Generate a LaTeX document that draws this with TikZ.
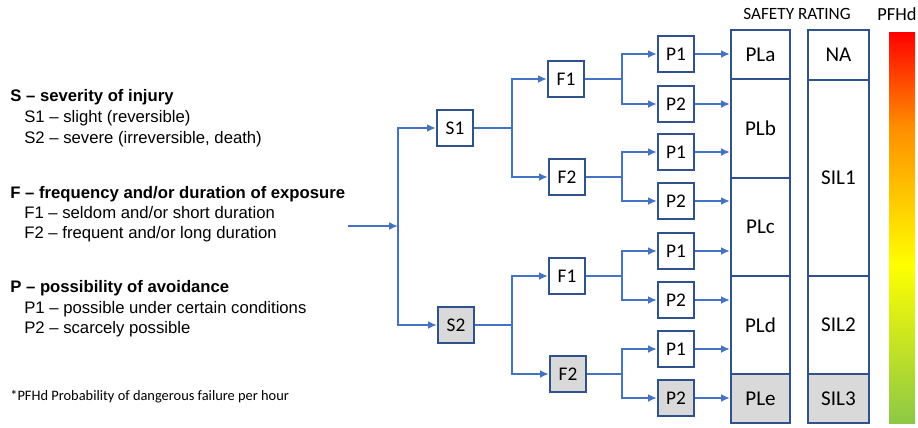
\documentclass[tikz,border=0pt]{standalone}
\usepackage{fontspec}
\setmainfont{Liberation Sans}
\newfontfamily\calibri{Carlito}
\usetikzlibrary{arrows.meta}
\definecolor{flowblue}{RGB}{68,114,196}
\definecolor{boxblue}{RGB}{47,82,143}
\definecolor{palegray}{RGB}{217,217,217}
\definecolor{barred}{RGB}{255,0,0}
\definecolor{barorange}{RGB}{255,140,0}
\definecolor{baryellow}{RGB}{255,255,0}
\definecolor{bargreen}{RGB}{140,200,70}

\begin{document}
\begin{tikzpicture}[x=0.02cm, y=-0.02cm,
    flow/.style={draw=flowblue, line width=1.3pt, -{Latex[length=5pt,width=4.5pt]}},
    decide/.style={draw=boxblue, line width=1.3pt, fill=white, minimum width=0.72cm,
        minimum height=0.72cm, inner sep=0pt, font=\calibri\fontsize{11}{13}\selectfont},
    rating/.style={draw=boxblue, line width=1.3pt, fill=white, inner sep=0pt,
        font=\calibri\fontsize{12}{14}\selectfont},
    grayed/.style={fill=palegray},
    legend/.style={anchor=base west, inner sep=0pt, font=\fontsize{9.5}{11}\selectfont}]
    \useasboundingbox (0,0) rectangle (918,427);

    % legend on the left
    \node[legend] (sname) at (10,101) {\textbf{S – severity of injury}};
    \node[legend] (sone) at (24,122) {S1 – slight (reversible)};
    \node[legend] (stwo) at (24,143) {S2 – severe (irreversible, death)};
    \node[legend] (fname) at (10,198) {\textbf{F – frequency and/or duration of exposure}};
    \node[legend] (fone) at (24,218) {F1 – seldom and/or short duration};
    \node[legend] (ftwo) at (24,238) {F2 – frequent and/or long duration};
    \node[legend] (pname) at (10,292) {\textbf{P – possibility of avoidance}};
    \node[legend] (pone) at (24,313) {P1 – possible under certain conditions};
    \node[legend] (ptwo) at (24,333) {P2 – scarcely possible};
    \node[anchor=base west, inner sep=0pt, font=\calibri\fontsize{8.2}{10}\selectfont] (note)
        at (10,400) {*PFHd Probability of dangerous failure per hour};

    % decision tree
    \node[decide] (s1) at (455,128) {S1};
    \node[decide, grayed] (s2) at (456,325) {S2};
    \node[decide] (f1a) at (566,79) {F1};
    \node[decide] (f2a) at (567,177) {F2};
    \node[decide] (f1b) at (567,276) {F1};
    \node[decide, grayed] (f2b) at (568,374) {F2};
    \node[decide] (p1a) at (676,54) {P1};
    \node[decide] (p2a) at (676,104) {P2};
    \node[decide] (p1b) at (676,152) {P1};
    \node[decide] (p2b) at (676,201) {P2};
    \node[decide] (p1c) at (676,251) {P1};
    \node[decide] (p2c) at (676,300) {P2};
    \node[decide] (p1d) at (676,349) {P1};
    \node[decide, grayed] (p2d) at (676,398) {P2};

    % performance levels and SIL
    \node[rating, minimum width=1.18cm, minimum height=0.98cm] (pla) at (760.5,54.5) {PLa};
    \node[rating, minimum width=1.18cm, minimum height=1.98cm] (plb) at (760.5,128.5) {PLb};
    \node[rating, minimum width=1.18cm, minimum height=1.96cm] (plc) at (760.5,227) {PLc};
    \node[rating, minimum width=1.18cm, minimum height=1.96cm] (pld) at (760.5,325) {PLd};
    \node[rating, grayed, minimum width=1.18cm, minimum height=0.98cm] (ple) at (760.5,398.5) {PLe};
    \node[rating, minimum width=1.22cm, minimum height=1.0cm] (na) at (838.5,55) {NA};
    \node[rating, minimum width=1.22cm, minimum height=3.92cm] (sil1) at (838.5,178) {SIL1};
    \node[rating, minimum width=1.22cm, minimum height=1.96cm] (sil2) at (838.5,325) {SIL2};
    \node[rating, grayed, minimum width=1.22cm, minimum height=0.98cm] (sil3) at (838.5,398.5) {SIL3};
    \node[font=\calibri\fontsize{9.8}{11}\selectfont] (rathead) at (797,14) {SAFETY RATING};
    \node[font=\calibri\fontsize{10.5}{12}\selectfont] (pfhd) at (897,14) {PFHd};

    % PFHd bar
    \shade[top color=barred, bottom color=barorange] (889,32) rectangle (915,125);
    \shade[top color=barorange, bottom color=baryellow] (889,124.5) rectangle (915,265);
    \shade[top color=baryellow, bottom color=bargreen] (889,264.5) rectangle (915,423);

    % junctions
    \coordinate (start) at (348,226);
    \coordinate (j0) at (398,226);
    \coordinate (js1) at (512,128);
    \coordinate (js2) at (512,325);
    \coordinate (jf1a) at (622,79);
    \coordinate (jf2a) at (622,177);
    \coordinate (jf1b) at (622,276);
    \coordinate (jf2b) at (622,374);

    \draw[flow] (start) -- (j0);
    \draw[flow] (j0) |- (s1);
    \draw[flow] (j0) |- (s2);
    \draw[flow] (s1) -- (js1) |- (f1a);
    \draw[flow] (js1) |- (f2a);
    \draw[flow] (s2) -- (js2) |- (f1b);
    \draw[flow] (js2) |- (f2b);
    \draw[flow] (f1a) -- (jf1a) |- (p1a);
    \draw[flow] (jf1a) |- (p2a);
    \draw[flow] (f2a) -- (jf2a) |- (p1b);
    \draw[flow] (jf2a) |- (p2b);
    \draw[flow] (f1b) -- (jf1b) |- (p1c);
    \draw[flow] (jf1b) |- (p2c);
    \draw[flow] (f2b) -- (jf2b) |- (p1d);
    \draw[flow] (jf2b) |- (p2d);

    \draw[flow] (p1a) -- (p1a -| pla.west);
    \draw[flow] (p2a) -- (p2a -| plb.west);
    \draw[flow] (p1b) -- (p1b -| plb.west);
    \draw[flow] (p2b) -- (p2b -| plc.west);
    \draw[flow] (p1c) -- (p1c -| plc.west);
    \draw[flow] (p2c) -- (p2c -| pld.west);
    \draw[flow] (p1d) -- (p1d -| pld.west);
    \draw[flow] (p2d) -- (p2d -| ple.west);
\end{tikzpicture}
\end{document}
